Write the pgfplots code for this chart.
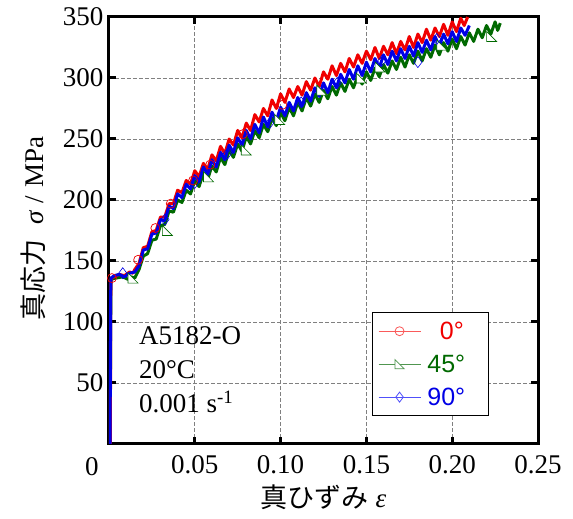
\documentclass[border=0pt]{standalone}
\usepackage{fontspec}
\setmainfont{Liberation Serif}
\setsansfont{Liberation Sans}
\newfontfamily\cjk{Noto Sans CJK JP}
\usepackage{pgfplots}
\pgfplotsset{compat=1.18}
\definecolor{myred}{RGB}{240,0,0}
\definecolor{mygreen}{RGB}{0,105,0}
\definecolor{myblue}{RGB}{0,0,230}
\definecolor{lred}{RGB}{250,90,90}
\definecolor{lgreen}{RGB}{80,150,80}
\definecolor{lblue}{RGB}{80,80,250}
\pgfdeclareplotmark{rtri}{%
  \pgfpathmoveto{\pgfqpoint{-\pgfplotmarksize}{\pgfplotmarksize}}%
  \pgfpathlineto{\pgfqpoint{-\pgfplotmarksize}{-\pgfplotmarksize}}%
  \pgfpathlineto{\pgfqpoint{\pgfplotmarksize}{-\pgfplotmarksize}}%
  \pgfpathclose\pgfusepathqfillstroke}
\begin{document}
\begin{tikzpicture}
\path[use as bounding box] (-109pt,-75pt) rectangle (464pt,444pt);
\begin{axis}[name=ax, at={(0pt,0pt)}, anchor=south west, scale only axis, width=429pt, height=427pt,
  xmin=0, xmax=0.25, ymin=0, ymax=350,
  xtick={0.05,0.1,0.15,0.2,0.25}, xticklabels={0.05,0.10,0.15,0.20,0.25},
  ytick={50,100,150,200,250,300,350}, yticklabels={50,100,150,200,250,300,350},
  tick align=inside, major tick length=7pt,
  tick style={line width=3pt, black},
  axis line style={line width=3pt},
  grid=major, grid style={dash pattern=on 4pt off 2pt, gray, line width=0.8pt},
  xticklabel style={font=\fontsize{27}{30}\selectfont\rmfamily, yshift=-8pt},
  yticklabel style={font=\fontsize{27}{30}\selectfont\rmfamily, xshift=-2pt},
  xlabel={{\cjk 真ひずみ} \textit{ε}},
  ylabel={{\cjk 真応力}\hspace{15pt}\textit{σ}\hspace{7pt}/\hspace{8pt}MPa},
  label style={font=\fontsize{27}{30}\selectfont},
  xlabel style={at={(axis description cs:0.5,-0.124)}, anchor=center},
  ylabel style={at={(axis description cs:-0.177,0.505)}, anchor=center},
  legend style={at={(axis cs:0.153,108)}, anchor=north west, draw=black, line width=1pt, fill=white, font=\fontsize{25}{28}\sffamily, row sep=10pt, inner xsep=6pt, inner ysep=7pt, nodes={inner xsep=5pt}},
  legend cell align=center,
  legend image code/.code={\draw[#1, mark repeat=2, mark phase=2] plot coordinates {(0pt,0pt) (21pt,0pt) (42pt,0pt)};},
]
\addlegendimage{lred, line width=1pt, mark=o, mark size=4.5pt, mark options={fill=white, line width=0.8pt}}
\addlegendentry{\textcolor{myred}{\ \ 0°\ \ }}
\addlegendimage{lgreen, line width=1pt, mark=rtri, mark size=4.5pt, mark options={fill=white, line width=0.8pt}}
\addlegendentry{\textcolor{mygreen}{45°\ \,}}
\addlegendimage{lblue, line width=1pt, mark=diamond, mark size=5pt, mark options={fill=white, line width=0.8pt}}
\addlegendentry{\textcolor{myblue}{90°\ \,}}
% green 45 deg
\addplot[mygreen, line width=3pt, line join=round, forget plot] coordinates {
(0.0007,0) (0.0009,70) (0.0011,130) (0.0013,135) (0.004,136) (0.008,137) (0.011,135) (0.013,137) (0.015,136)
(0.0175,143) (0.02,154) (0.0225,156) (0.025,167) (0.0275,168) (0.03,179) (0.0325,180) (0.035,191) (0.0375,190)
(0.04,200) (0.0425,198) (0.045,208) (0.0475,205) (0.05,216) (0.0525,211) (0.055,222) (0.0575,217) (0.06,228)
(0.0625,223) (0.065,235) (0.0675,229) (0.07,241) (0.0725,235) (0.075,246) (0.0775,240) (0.08,252) (0.0825,246)
(0.085,257) (0.0875,251) (0.09,262) (0.0925,256) (0.095,267) (0.0975,261) (0.1,272) (0.1025,265) (0.105,276)
(0.1075,269) (0.11,280) (0.1125,273) (0.115,284) (0.1175,277) (0.12,287) (0.1225,280) (0.125,290) (0.1275,283)
(0.13,293) (0.1325,286) (0.135,296) (0.1375,289) (0.14,299) (0.1425,292) (0.145,302) (0.1475,295) (0.15,305)
(0.1525,298) (0.155,308) (0.1575,301) (0.16,311) (0.1625,304) (0.165,314) (0.1675,307) (0.17,317) (0.1725,309)
(0.175,319) (0.1775,312) (0.18,322) (0.1825,314) (0.185,324) (0.1875,317) (0.19,327) (0.1925,319) (0.195,329)
(0.1975,322) (0.2,332) (0.2025,324) (0.205,334) (0.2075,327) (0.21,337) (0.2125,330) (0.215,340) (0.2175,333)
(0.22,343) (0.2225,336) (0.225,346) (0.2265,339) (0.228,345)};
% red 0 deg
\addplot[myred, line width=3pt, line join=round, forget plot] coordinates {
(0.0008,0) (0.0010,120) (0.0012,136) (0.003,137) (0.006,139) (0.009,138) (0.012,141) (0.014,140) (0.015,143)
(0.0175,148) (0.02,161) (0.0225,162) (0.025,174) (0.0275,175) (0.03,186) (0.0325,186) (0.035,197) (0.0375,197)
(0.04,208) (0.0425,206) (0.045,216) (0.0475,213) (0.05,224) (0.0525,219) (0.055,230) (0.0575,225) (0.06,237)
(0.0625,232) (0.065,244) (0.0675,238) (0.07,250) (0.0725,245) (0.075,257) (0.0775,251) (0.08,263) (0.0825,257)
(0.085,270) (0.0875,264) (0.09,275) (0.0925,269) (0.095,282) (0.0975,275) (0.1,287) (0.1025,280) (0.105,291)
(0.1075,284) (0.11,293) (0.1125,286) (0.115,297) (0.1175,290) (0.12,300) (0.1225,293) (0.125,305) (0.1275,299)
(0.13,310) (0.1325,302) (0.135,312) (0.1375,305) (0.14,316) (0.1425,309) (0.145,319) (0.1475,312) (0.15,322)
(0.1525,315) (0.155,325) (0.1575,316) (0.16,326) (0.1625,319) (0.165,329) (0.1675,320) (0.17,330) (0.1725,323)
(0.175,334) (0.1775,325) (0.18,336) (0.1825,329) (0.185,340) (0.1875,331) (0.19,341) (0.1925,334) (0.195,344)
(0.1975,335) (0.2,346) (0.2025,338) (0.205,349) (0.207,343) (0.209,350)};
% blue 90 deg
\addplot[myblue, line width=3pt, line join=round, forget plot] coordinates {
(0.0006,0) (0.0008,60) (0.001,125) (0.0012,136) (0.003,138) (0.006,139) (0.009,137) (0.012,140) (0.015,141)
(0.0175,146) (0.02,159) (0.0225,160) (0.025,172) (0.0275,173) (0.03,184) (0.0325,183) (0.035,195) (0.0375,193)
(0.04,205) (0.0425,202) (0.045,213) (0.0475,209) (0.05,220) (0.0525,215) (0.055,227) (0.0575,221) (0.06,233)
(0.0625,227) (0.065,239) (0.0675,233) (0.07,245) (0.0725,239) (0.075,251) (0.0775,245) (0.08,257) (0.0825,250)
(0.085,262) (0.0875,255) (0.09,268) (0.0925,260) (0.095,272) (0.0975,265) (0.1,276) (0.1025,269) (0.105,280)
(0.1075,273) (0.11,284) (0.1125,277) (0.115,288) (0.1175,281) (0.12,292) (0.1225,285) (0.125,296) (0.1275,288)
(0.13,299) (0.1325,292) (0.135,303) (0.1375,296) (0.14,307) (0.1425,299) (0.145,310) (0.1475,302) (0.15,313)
(0.1525,305) (0.155,316) (0.1575,308) (0.16,319) (0.1625,311) (0.165,322) (0.1675,314) (0.17,324) (0.1725,316)
(0.175,326) (0.1775,318) (0.18,329) (0.1825,321) (0.185,331) (0.1875,323) (0.19,334) (0.1925,326) (0.195,336)
(0.1975,328) (0.2,338) (0.2025,330) (0.205,341) (0.2075,335) (0.21,343)};
% markers
\addplot[only marks, mygreen, mark=rtri, mark size=5pt, mark options={fill=white, line width=0.6pt}, forget plot] coordinates {
(0.014,136) (0.034,175) (0.058,219) (0.080,241) (0.0995,266) (0.124,290) (0.147,300) (0.158,309) (0.194,327) (0.223,334)};
\addplot[only marks, myblue, mark=diamond, mark size=5.5pt, mark options={fill=white, line width=0.6pt}, forget plot] coordinates {
(0.008,140) (0.0326,184) (0.05,214) (0.069,238) (0.0936,263) (0.112,280) (0.133,296) (0.159,314) (0.180,313) (0.191,332)};
\addplot[only marks, myred, mark=o, mark size=4.5pt, mark options={fill=white, line width=0.7pt}, forget plot] coordinates {
(0.0017,136) (0.017,151) (0.027,177) (0.036,197) (0.049,216) (0.059,229) (0.078,254) (0.101,278)};
\node[anchor=west, align=left, font=\fontsize{27}{34}\selectfont, inner sep=0pt] at (axis cs:0.0174,61) {A5182-O\\20°C\\0.001 s\textsuperscript{-1}};
\end{axis}
\node[font=\fontsize{27}{30}\selectfont, anchor=center] at (-17pt,-23pt) {0};
\end{tikzpicture}
\end{document}
